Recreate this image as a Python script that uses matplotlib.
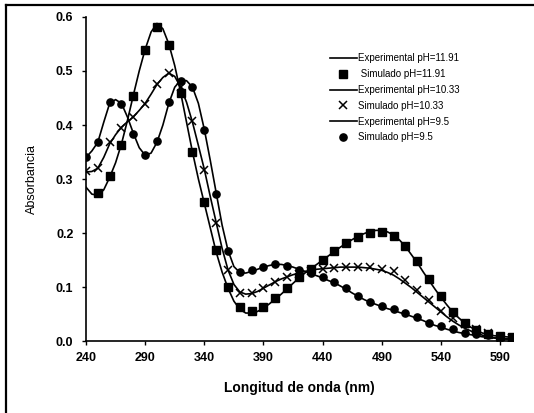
import matplotlib
matplotlib.use("Agg")
import matplotlib.pyplot as plt
from matplotlib.lines import Line2D

plt.rcParams['font.family'] = ['Liberation Sans', 'DejaVu Sans']

# Experimental curves (5 nm)
wl_exp = list(range(240, 601, 5))
exp_1191 = [0.285, 0.272, 0.270, 0.280, 0.303, 0.330, 0.365, 0.408, 0.455, 0.500,
            0.540, 0.572, 0.588, 0.578, 0.550, 0.510, 0.460, 0.405, 0.350, 0.300,
            0.255, 0.210, 0.165, 0.128, 0.098, 0.074, 0.059, 0.052, 0.052, 0.055,
            0.061, 0.069, 0.078, 0.087, 0.097, 0.107, 0.117, 0.126, 0.134, 0.142,
            0.150, 0.158, 0.166, 0.174, 0.181, 0.188, 0.194, 0.199, 0.203, 0.205,
            0.205, 0.202, 0.196, 0.187, 0.175, 0.160, 0.145, 0.128, 0.112, 0.096,
            0.081, 0.067, 0.054, 0.043, 0.034, 0.026, 0.020, 0.015, 0.012, 0.010,
            0.009, 0.008, 0.007]
exp_1033 = [0.313, 0.314, 0.320, 0.340, 0.365, 0.382, 0.396, 0.406, 0.415, 0.427,
            0.440, 0.457, 0.475, 0.488, 0.496, 0.490, 0.470, 0.442, 0.405, 0.362,
            0.318, 0.268, 0.220, 0.172, 0.132, 0.105, 0.091, 0.087, 0.088, 0.092,
            0.098, 0.104, 0.110, 0.115, 0.119, 0.123, 0.126, 0.129, 0.131, 0.133,
            0.134, 0.135, 0.136, 0.137, 0.137, 0.137, 0.137, 0.136, 0.135, 0.133,
            0.131, 0.127, 0.122, 0.115, 0.107, 0.099, 0.090, 0.081, 0.072, 0.063,
            0.054, 0.045, 0.037, 0.030, 0.024, 0.019, 0.015, 0.011, 0.008, 0.006,
            0.005, 0.004, 0.004]
exp_95 = [0.340, 0.352, 0.368, 0.405, 0.440, 0.447, 0.440, 0.415, 0.385, 0.358,
          0.344, 0.348, 0.368, 0.400, 0.440, 0.470, 0.483, 0.482, 0.470, 0.440,
          0.392, 0.335, 0.275, 0.215, 0.168, 0.138, 0.127, 0.126, 0.129, 0.133,
          0.137, 0.140, 0.142, 0.142, 0.140, 0.137, 0.133, 0.129, 0.125, 0.121,
          0.117, 0.112, 0.108, 0.102, 0.096, 0.089, 0.083, 0.077, 0.072, 0.068,
          0.064, 0.060, 0.057, 0.053, 0.050, 0.046, 0.042, 0.038, 0.033, 0.029,
          0.026, 0.022, 0.019, 0.016, 0.014, 0.012, 0.010, 0.008, 0.007, 0.006,
          0.005, 0.004, 0.004]

# Simulated points (10 nm)
wl_sim_1191 = list(range(250, 601, 10))
sim_1191 = [0.275, 0.305, 0.363, 0.454, 0.539, 0.581, 0.548, 0.460, 0.350, 0.258,
            0.168, 0.100, 0.064, 0.056, 0.064, 0.080, 0.099, 0.118, 0.133, 0.150,
            0.166, 0.181, 0.192, 0.200, 0.202, 0.195, 0.176, 0.148, 0.115, 0.083,
            0.054, 0.033, 0.020, 0.013, 0.010, 0.008]
wl_sim = list(range(240, 601, 10))
sim_1033 = [0.315, 0.320, 0.368, 0.395, 0.414, 0.439, 0.476, 0.497, 0.470, 0.407,
            0.316, 0.218, 0.131, 0.089, 0.090, 0.099, 0.110, 0.119, 0.125, 0.130,
            0.134, 0.136, 0.138, 0.138, 0.137, 0.134, 0.129, 0.113, 0.095, 0.076,
            0.056, 0.042, 0.031, 0.022, 0.015, 0.004, 0.006]
sim_95 = [0.341, 0.368, 0.442, 0.438, 0.383, 0.344, 0.370, 0.442, 0.481, 0.471,
          0.390, 0.272, 0.167, 0.128, 0.131, 0.138, 0.143, 0.139, 0.131, 0.126,
          0.119, 0.110, 0.098, 0.083, 0.073, 0.065, 0.059, 0.052, 0.045, 0.034,
          0.028, 0.022, 0.015, 0.013, 0.011, 0.008, 0.006]

labels = ["Experimental pH=11.91", " Simulado pH=11.91", "Experimental pH=10.33",
          "Simulado pH=10.33", "Experimental pH=9.5", "Simulado pH=9.5"]
xticks = [240, 290, 340, 390, 440, 490, 540, 590]
yticks = [0.0, 0.1, 0.2, 0.3, 0.4, 0.5, 0.6]

fig = plt.figure(figsize=(5.34, 4.13), dpi=100)
ax = fig.add_axes([0.161, 0.174, 0.800, 0.785])

lw = 1.2
h1, = ax.plot(wl_exp, exp_1191, color='black', lw=lw)
h2, = ax.plot(wl_sim_1191, sim_1191, ls='none', marker='s', ms=5.2, color='black')
h3, = ax.plot(wl_exp, exp_1033, color='black', lw=lw)
h4, = ax.plot(wl_sim, sim_1033, ls='none', marker='x', ms=5.2, mew=1.1, color='black')
h5, = ax.plot(wl_exp, exp_95, color='black', lw=lw)
h6, = ax.plot(wl_sim, sim_95, ls='none', marker='o', ms=5.2, color='black')

ax.set_xlim(240, 601)
ax.set_ylim(0, 0.6)
ax.set_xticks(xticks)
ax.set_yticks(yticks)
ax.set_yticklabels([f"{v:.1f}" for v in yticks])
for s in ['top', 'right']:
    ax.spines[s].set_visible(False)
for s in ['left', 'bottom']:
    ax.spines[s].set_linewidth(1.2)
ax.tick_params(axis='both', labelsize=9, length=3, width=1, direction='out')
for t in ax.get_xticklabels() + ax.get_yticklabels():
    t.set_fontweight('bold')
ax.tick_params(axis='x', pad=5)
ax.tick_params(axis='y', pad=6)

ax.set_xlabel("Longitud de onda (nm)", fontsize=10, fontweight='bold', labelpad=12)
ax.set_ylabel("Absorbancia", fontsize=9, labelpad=13)

leg = ax.legend([h1, h2, h3, h4, h5, h6], labels, loc='upper left',
                bbox_to_anchor=(0.572, 0.888), frameon=False, fontsize=7,
                handlelength=2.7, handletextpad=0.1, labelspacing=0.6,
                borderpad=0, borderaxespad=0)

# Outer frame (top and left edges)
fig.add_artist(Line2D([0.011, 1.0], [0.988, 0.988], transform=fig.transFigure,
                      color='black', lw=1.6))
fig.add_artist(Line2D([0.011, 0.011], [0.0, 0.988], transform=fig.transFigure,
                      color='black', lw=1.6))

fig.savefig("out.png", dpi=100)
